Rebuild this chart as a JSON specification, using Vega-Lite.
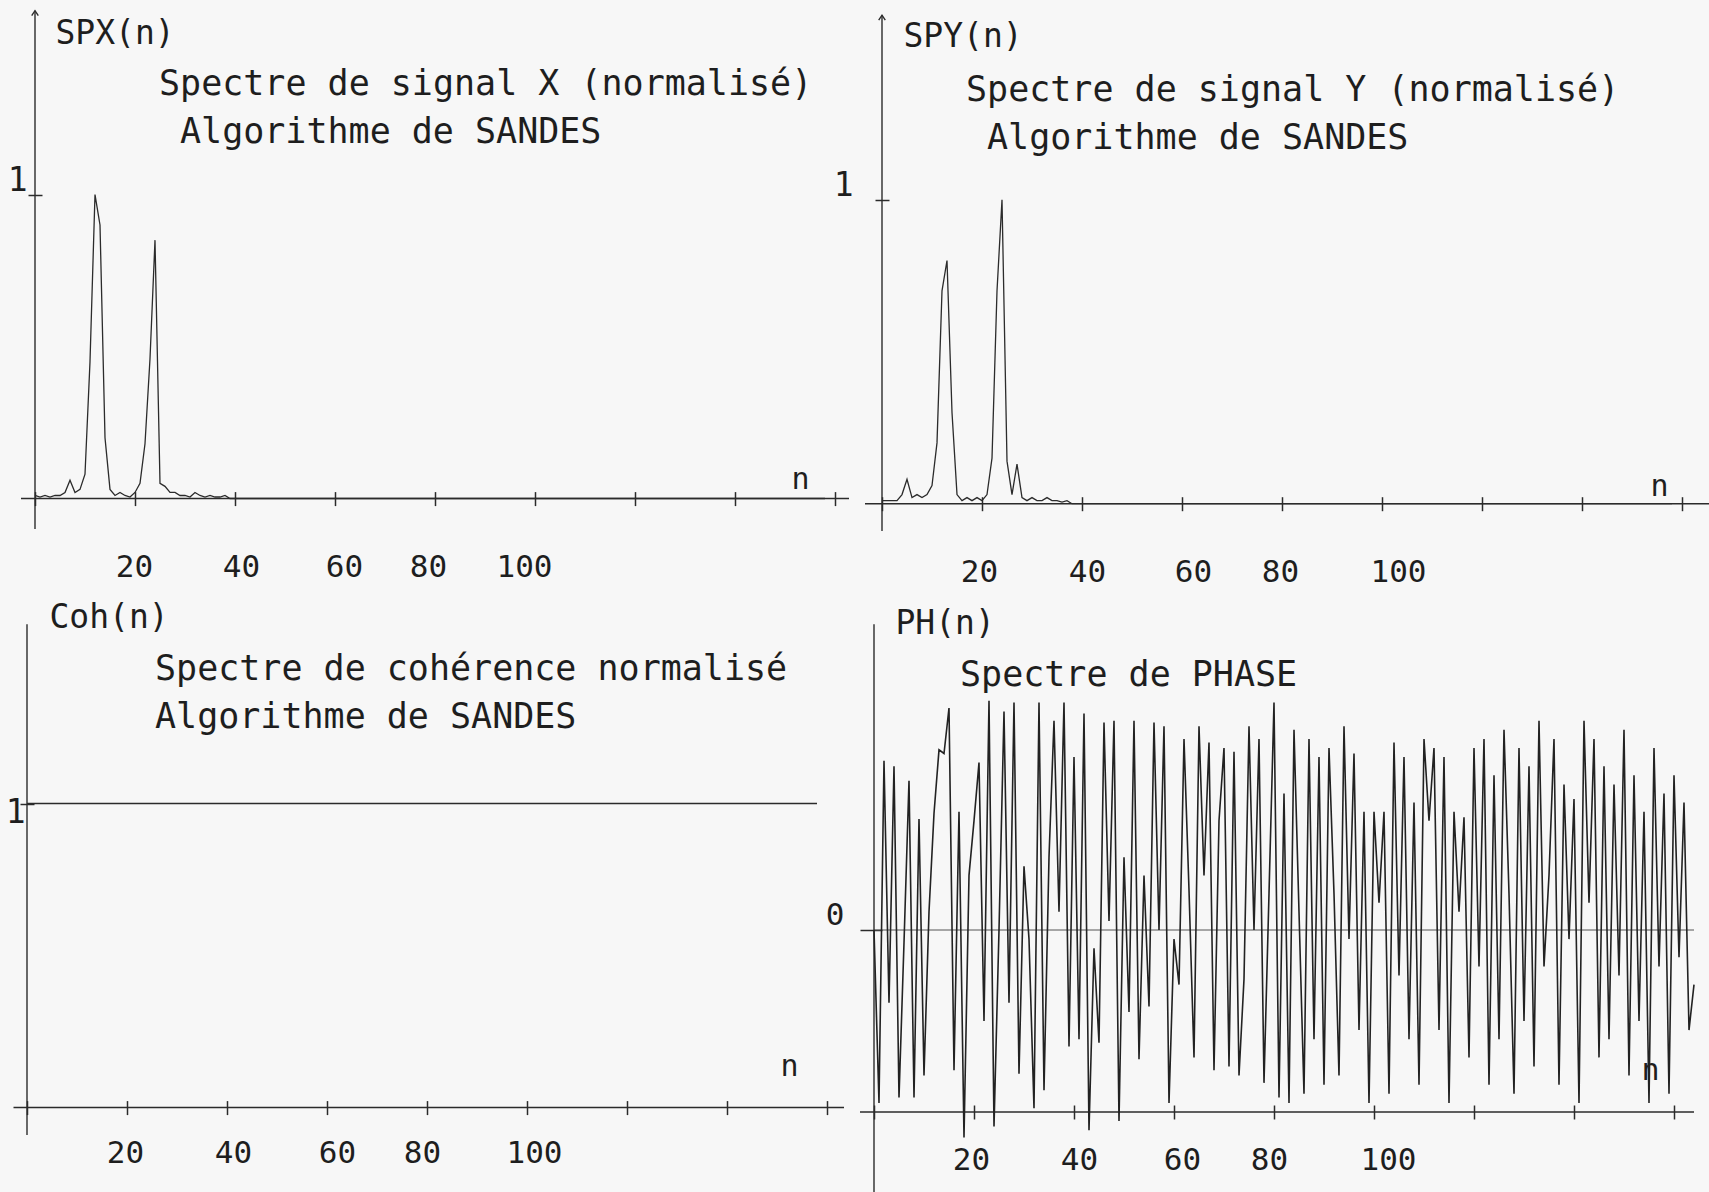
{
"$schema": "https://vega.github.io/schema/vega-lite/v6.json",
"background": "#f7f7f7",
"autosize": {"type": "none"},
"padding": {"left": 5, "top": 0, "right": 1704, "bottom": 1192},
"config": {
  "view": {"stroke": null},
  "font": "DejaVu Sans Mono",
  "axis": {"labelFont": "DejaVu Sans Mono", "titleFont": "DejaVu Sans Mono", "labelColor": "#1e1e1e", "titleColor": "#1e1e1e", "tickColor": "#2b2b2b", "tickWidth": 1.5, "grid": false, "domain": false, "labelFontSize": 31, "titleFontSize": 33, "titleFontWeight": "normal", "labelFlush": false, "labelOverlap": false, "titlePadding": 0},
  "text": {"font": "DejaVu Sans Mono", "fontSize": 35, "align": "left", "baseline": "alphabetic", "color": "#1e1e1e"}
},
"datasets": {"sig": [
{"n":0,"spx":0.01,"spy":0.01,"coh":1,"ph":0},
{"n":1,"spx":0.005,"spy":0.01,"coh":1,"ph":-0.95},
{"n":2,"spx":0.01,"spy":0.01,"coh":1,"ph":0.93},
{"n":3,"spx":0.005,"spy":0.01,"coh":1,"ph":-0.4},
{"n":4,"spx":0.01,"spy":0.03,"coh":1,"ph":0.9},
{"n":5,"spx":0.01,"spy":0.08,"coh":1,"ph":-0.92},
{"n":6,"spx":0.02,"spy":0.02,"coh":1,"ph":-0.07},
{"n":7,"spx":0.06,"spy":0.03,"coh":1,"ph":0.82},
{"n":8,"spx":0.02,"spy":0.02,"coh":1,"ph":-0.92},
{"n":9,"spx":0.03,"spy":0.03,"coh":1,"ph":0.61},
{"n":10,"spx":0.08,"spy":0.06,"coh":1,"ph":-0.8},
{"n":11,"spx":0.45,"spy":0.2,"coh":1,"ph":0.1},
{"n":12,"spx":1.0,"spy":0.7,"coh":1,"ph":0.64},
{"n":13,"spx":0.9,"spy":0.8,"coh":1,"ph":0.99},
{"n":14,"spx":0.2,"spy":0.3,"coh":1,"ph":0.97},
{"n":15,"spx":0.03,"spy":0.03,"coh":1,"ph":1.22},
{"n":16,"spx":0.01,"spy":0.01,"coh":1,"ph":-0.77},
{"n":17,"spx":0.02,"spy":0.02,"coh":1,"ph":0.65},
{"n":18,"spx":0.01,"spy":0.01,"coh":1,"ph":-1.14},
{"n":19,"spx":0.005,"spy":0.02,"coh":1,"ph":0.3},
{"n":20,"spx":0.02,"spy":0.01,"coh":1,"ph":0.6},
{"n":21,"spx":0.05,"spy":0.03,"coh":1,"ph":0.92},
{"n":22,"spx":0.18,"spy":0.15,"coh":1,"ph":-0.5},
{"n":23,"spx":0.46,"spy":0.7,"coh":1,"ph":1.26},
{"n":24,"spx":0.85,"spy":1.0,"coh":1,"ph":-1.08},
{"n":25,"spx":0.05,"spy":0.14,"coh":1,"ph":0.0},
{"n":26,"spx":0.04,"spy":0.03,"coh":1,"ph":1.2},
{"n":27,"spx":0.02,"spy":0.13,"coh":1,"ph":-0.4},
{"n":28,"spx":0.02,"spy":0.02,"coh":1,"ph":1.25},
{"n":29,"spx":0.01,"spy":0.01,"coh":1,"ph":-0.79},
{"n":30,"spx":0.01,"spy":0.02,"coh":1,"ph":0.35},
{"n":31,"spx":0.005,"spy":0.01,"coh":1,"ph":-0.05},
{"n":32,"spx":0.02,"spy":0.01,"coh":1,"ph":-0.98},
{"n":33,"spx":0.01,"spy":0.02,"coh":1,"ph":1.25},
{"n":34,"spx":0.005,"spy":0.01,"coh":1,"ph":-0.88},
{"n":35,"spx":0.01,"spy":0.01,"coh":1,"ph":0.4},
{"n":36,"spx":0.005,"spy":0.005,"coh":1,"ph":1.15},
{"n":37,"spx":0.005,"spy":0.01,"coh":1,"ph":0.1},
{"n":38,"spx":0.01,"spy":0,"coh":1,"ph":1.25},
{"n":39,"spx":0,"spy":0,"coh":1,"ph":-0.64},
{"n":40,"spx":0,"spy":0,"coh":1,"ph":0.95},
{"n":41,"spx":0,"spy":0,"coh":1,"ph":-0.6},
{"n":42,"spx":0,"spy":0,"coh":1,"ph":1.19},
{"n":43,"spx":0,"spy":0,"coh":1,"ph":-1.1},
{"n":44,"spx":0,"spy":0,"coh":1,"ph":-0.1},
{"n":45,"spx":0,"spy":0,"coh":1,"ph":-0.62},
{"n":46,"spx":0,"spy":0,"coh":1,"ph":1.14},
{"n":47,"spx":0,"spy":0,"coh":1,"ph":0.05},
{"n":48,"spx":0,"spy":0,"coh":1,"ph":1.15},
{"n":49,"spx":0,"spy":0,"coh":1,"ph":-1.05},
{"n":50,"spx":0,"spy":0,"coh":1,"ph":0.4},
{"n":51,"spx":0,"spy":0,"coh":1,"ph":-0.45},
{"n":52,"spx":0,"spy":0,"coh":1,"ph":1.15},
{"n":53,"spx":0,"spy":0,"coh":1,"ph":-0.71},
{"n":54,"spx":0,"spy":0,"coh":1,"ph":0.3},
{"n":55,"spx":0,"spy":0,"coh":1,"ph":-0.42},
{"n":56,"spx":0,"spy":0,"coh":1,"ph":1.14},
{"n":57,"spx":0,"spy":0,"coh":1,"ph":0.0},
{"n":58,"spx":0,"spy":0,"coh":1,"ph":1.12},
{"n":59,"spx":0,"spy":0,"coh":1,"ph":-0.95},
{"n":60,"spx":0,"spy":0,"coh":1,"ph":-0.05},
{"n":61,"spx":0,"spy":0,"coh":1,"ph":-0.3},
{"n":62,"spx":0,"spy":0,"coh":1,"ph":1.05},
{"n":63,"spx":0,"spy":0,"coh":1,"ph":0.22},
{"n":64,"spx":0,"spy":0,"coh":1,"ph":-0.7},
{"n":65,"spx":0,"spy":0,"coh":1,"ph":1.12},
{"n":66,"spx":0,"spy":0,"coh":1,"ph":0.3},
{"n":67,"spx":0,"spy":0,"coh":1,"ph":1.03},
{"n":68,"spx":0,"spy":0,"coh":1,"ph":-0.77},
{"n":69,"spx":0,"spy":0,"coh":1,"ph":0.6},
{"n":70,"spx":0,"spy":0,"coh":1,"ph":1.0},
{"n":71,"spx":0,"spy":0,"coh":1,"ph":-0.75},
{"n":72,"spx":0,"spy":0,"coh":1,"ph":0.98},
{"n":73,"spx":0,"spy":0,"coh":1,"ph":-0.8},
{"n":74,"spx":0,"spy":0,"coh":1,"ph":-0.27},
{"n":75,"spx":0,"spy":0,"coh":1,"ph":1.12},
{"n":76,"spx":0,"spy":0,"coh":1,"ph":0.0},
{"n":77,"spx":0,"spy":0,"coh":1,"ph":1.05},
{"n":78,"spx":0,"spy":0,"coh":1,"ph":-0.84},
{"n":79,"spx":0,"spy":0,"coh":1,"ph":0.2},
{"n":80,"spx":0,"spy":0,"coh":1,"ph":1.25},
{"n":81,"spx":0,"spy":0,"coh":1,"ph":-0.92},
{"n":82,"spx":0,"spy":0,"coh":1,"ph":0.75},
{"n":83,"spx":0,"spy":0,"coh":1,"ph":-0.95},
{"n":84,"spx":0,"spy":0,"coh":1,"ph":1.1},
{"n":85,"spx":0,"spy":0,"coh":1,"ph":0.1},
{"n":86,"spx":0,"spy":0,"coh":1,"ph":-0.9},
{"n":87,"spx":0,"spy":0,"coh":1,"ph":1.05},
{"n":88,"spx":0,"spy":0,"coh":1,"ph":-0.6},
{"n":89,"spx":0,"spy":0,"coh":1,"ph":0.95},
{"n":90,"spx":0,"spy":0,"coh":1,"ph":-0.85},
{"n":91,"spx":0,"spy":0,"coh":1,"ph":1.0},
{"n":92,"spx":0,"spy":0,"coh":1,"ph":0.2},
{"n":93,"spx":0,"spy":0,"coh":1,"ph":-0.8},
{"n":94,"spx":0,"spy":0,"coh":1,"ph":1.12},
{"n":95,"spx":0,"spy":0,"coh":1,"ph":-0.05},
{"n":96,"spx":0,"spy":0,"coh":1,"ph":0.97},
{"n":97,"spx":0,"spy":0,"coh":1,"ph":-0.55},
{"n":98,"spx":0,"spy":0,"coh":1,"ph":0.65},
{"n":99,"spx":0,"spy":0,"coh":1,"ph":-0.95},
{"n":100,"spx":0,"spy":0,"coh":1,"ph":0.65},
{"n":101,"spx":0,"spy":0,"coh":1,"ph":0.15},
{"n":102,"spx":0,"spy":0,"coh":1,"ph":0.65},
{"n":103,"spx":0,"spy":0,"coh":1,"ph":-0.9},
{"n":104,"spx":0,"spy":0,"coh":1,"ph":1.03},
{"n":105,"spx":0,"spy":0,"coh":1,"ph":-0.25},
{"n":106,"spx":0,"spy":0,"coh":1,"ph":0.95},
{"n":107,"spx":0,"spy":0,"coh":1,"ph":-0.6},
{"n":108,"spx":0,"spy":0,"coh":1,"ph":0.7},
{"n":109,"spx":0,"spy":0,"coh":1,"ph":-0.85},
{"n":110,"spx":0,"spy":0,"coh":1,"ph":1.05},
{"n":111,"spx":0,"spy":0,"coh":1,"ph":0.6},
{"n":112,"spx":0,"spy":0,"coh":1,"ph":1.0},
{"n":113,"spx":0,"spy":0,"coh":1,"ph":-0.55},
{"n":114,"spx":0,"spy":0,"coh":1,"ph":0.95},
{"n":115,"spx":0,"spy":0,"coh":1,"ph":-0.95},
{"n":116,"spx":0,"spy":0,"coh":1,"ph":0.65},
{"n":117,"spx":0,"spy":0,"coh":1,"ph":0.1},
{"n":118,"spx":0,"spy":0,"coh":1,"ph":0.62},
{"n":119,"spx":0,"spy":0,"coh":1,"ph":-0.7},
{"n":120,"spx":0,"spy":0,"coh":1,"ph":1.0},
{"n":121,"spx":0,"spy":0,"coh":1,"ph":-0.2},
{"n":122,"spx":0,"spy":0,"coh":1,"ph":1.05},
{"n":123,"spx":0,"spy":0,"coh":1,"ph":-0.85},
{"n":124,"spx":0,"spy":0,"coh":1,"ph":0.85},
{"n":125,"spx":0,"spy":0,"coh":1,"ph":-0.6},
{"n":126,"spx":0,"spy":0,"coh":1,"ph":1.1},
{"n":127,"spx":0,"spy":0,"coh":1,"ph":0.2},
{"n":128,"spx":0,"spy":0,"coh":1,"ph":-0.9},
{"n":129,"spx":0,"spy":0,"coh":1,"ph":1.0},
{"n":130,"spx":0,"spy":0,"coh":1,"ph":-0.5},
{"n":131,"spx":0,"spy":0,"coh":1,"ph":0.9},
{"n":132,"spx":0,"spy":0,"coh":1,"ph":-0.75},
{"n":133,"spx":0,"spy":0,"coh":1,"ph":1.15},
{"n":134,"spx":0,"spy":0,"coh":1,"ph":-0.2},
{"n":135,"spx":0,"spy":0,"coh":1,"ph":0.3},
{"n":136,"spx":0,"spy":0,"coh":1,"ph":1.05},
{"n":137,"spx":0,"spy":0,"coh":1,"ph":-0.85},
{"n":138,"spx":0,"spy":0,"coh":1,"ph":0.8},
{"n":139,"spx":0,"spy":0,"coh":1,"ph":-0.05},
{"n":140,"spx":0,"spy":0,"coh":1,"ph":0.72},
{"n":141,"spx":0,"spy":0,"coh":1,"ph":-0.95},
{"n":142,"spx":0,"spy":0,"coh":1,"ph":1.15},
{"n":143,"spx":0,"spy":0,"coh":1,"ph":0.15},
{"n":144,"spx":0,"spy":0,"coh":1,"ph":1.05},
{"n":145,"spx":0,"spy":0,"coh":1,"ph":-0.7},
{"n":146,"spx":0,"spy":0,"coh":1,"ph":0.9},
{"n":147,"spx":0,"spy":0,"coh":1,"ph":-0.6},
{"n":148,"spx":0,"spy":0,"coh":1,"ph":0.8},
{"n":149,"spx":0,"spy":0,"coh":1,"ph":-0.25},
{"n":150,"spx":0,"spy":0,"coh":1,"ph":1.1},
{"n":151,"spx":0,"spy":0,"coh":1,"ph":-0.8},
{"n":152,"spx":0,"spy":0,"coh":1,"ph":0.85},
{"n":153,"spx":0,"spy":0,"coh":1,"ph":-0.5},
{"n":154,"spx":0,"spy":0,"coh":1,"ph":0.65},
{"n":155,"spx":0,"spy":0,"coh":1,"ph":-0.95},
{"n":156,"spx":0,"spy":0,"coh":1,"ph":1.0},
{"n":157,"spx":0,"spy":0,"coh":1,"ph":-0.2},
{"n":158,"spx":0,"spy":0,"coh":1,"ph":0.75},
{"n":159,"spx":null,"spy":null,"coh":null,"ph":-0.9},
{"n":160,"spx":null,"spy":null,"coh":null,"ph":0.85},
{"n":161,"spx":null,"spy":null,"coh":null,"ph":-0.15},
{"n":162,"spx":null,"spy":null,"coh":null,"ph":0.7},
{"n":163,"spx":null,"spy":null,"coh":null,"ph":-0.55},
{"n":164,"spx":null,"spy":null,"coh":null,"ph":-0.3}
]},
"columns": 2,
"spacing": {"row": 74, "column": 14},
"bounds": "flush",
"concat": [
 {"width": 840, "height": 535, "data": {"name": "sig"},
  "layer": [
   {"data": {"values": [{}]}, "mark": {"type": "rule", "color": "#2b2b2b", "strokeWidth": 1.6}, "encoding": {"x": {"datum": -2.8}, "x2": {"datum": 162.8}, "y": {"datum": 0}}},
   {"data": {"values": [{}]}, "mark": {"type": "rule", "color": "#2b2b2b", "strokeWidth": 1.4}, "encoding": {"x": {"datum": 0}, "y": {"datum": -0.1}, "y2": {"datum": 1.605}}},
   {"data": {"values": [{}]}, "mark": {"type": "point", "shape": "M-0.6,0.9L0,0L0.6,0.9", "filled": false, "stroke": "#2b2b2b", "strokeWidth": 1.4, "size": 120, "opacity": 1}, "encoding": {"x": {"datum": 0}, "y": {"datum": 1.605}}},
   {"data": {"values": [{}]}, "mark": {"type": "text"}, "encoding": {"x": {"datum": 24.8}, "y": {"datum": 1.329}, "text": {"value": "Spectre de signal X (normalisé)"}}},
   {"data": {"values": [{}]}, "mark": {"type": "text"}, "encoding": {"x": {"datum": 29}, "y": {"datum": 1.171}, "text": {"value": "Algorithme de SANDES"}}},
   {"mark": {"type": "line", "color": "#2b2b2b", "strokeWidth": 1.3},
    "encoding": {
     "x": {"field": "n", "type": "quantitative", "scale": {"domain": [-6, 162], "nice": false, "zero": false},
       "axis": {"values": [0,20,40,60,80,100,120,140,160], "tickSize": 14, "offset": -43.4, "labelPadding": 47, "labelExpr": "datum.value >= 20 && datum.value <= 100 ? datum.label : ''",
         "labelOffset": {"condition": [{"test": "datum.value == 20", "value": -1}, {"test": "datum.value == 40", "value": 6}, {"test": "datum.value == 60", "value": 9}, {"test": "datum.value == 80", "value": -7}, {"test": "datum.value == 100", "value": -11}], "value": 0},
         "title": "n", "titleX": 795, "titleY": -12.6, "titleAlign": "center", "titleBaseline": "middle", "titleFontSize": 30}},
     "y": {"field": "spx", "type": "quantitative", "scale": {"domain": [-0.12, 1.64], "nice": false, "zero": false},
       "axis": {"values": [1], "format": "d", "tickSize": 14, "offset": -37, "labelPadding": 1, "labelBaseline": "alphabetic", "labelOffset": -4, "labelFontSize": 33, "title": "SPX(n)", "titleAngle": 0, "titleX": 13, "titleY": 33, "titleAlign": "left", "titleBaseline": "middle"}}
    }}
  ]},
 {"width": 833, "height": 535, "data": {"name": "sig"},
  "layer": [
   {"data": {"values": [{}]}, "mark": {"type": "rule", "color": "#2b2b2b", "strokeWidth": 1.6}, "encoding": {"x": {"datum": -3.4}, "x2": {"datum": 166}, "y": {"datum": 0}}},
   {"data": {"values": [{}]}, "mark": {"type": "rule", "color": "#2b2b2b", "strokeWidth": 1.4}, "encoding": {"x": {"datum": 0}, "y": {"datum": -0.09}, "y2": {"datum": 1.607}}},
   {"data": {"values": [{}]}, "mark": {"type": "point", "shape": "M-0.6,0.9L0,0L0.6,0.9", "filled": false, "stroke": "#2b2b2b", "strokeWidth": 1.4, "size": 120, "opacity": 1}, "encoding": {"x": {"datum": 0}, "y": {"datum": 1.607}}},
   {"data": {"values": [{}]}, "mark": {"type": "text"}, "encoding": {"x": {"datum": 16.8}, "y": {"datum": 1.325}, "text": {"value": "Spectre de signal Y (normalisé)"}}},
   {"data": {"values": [{}]}, "mark": {"type": "text"}, "encoding": {"x": {"datum": 21}, "y": {"datum": 1.167}, "text": {"value": "Algorithme de SANDES"}}},
   {"mark": {"type": "line", "color": "#2b2b2b", "strokeWidth": 1.3},
    "encoding": {
     "x": {"field": "n", "type": "quantitative", "scale": {"domain": [-4.6, 162], "nice": false, "zero": false},
       "axis": {"values": [0,20,40,60,80,100,120,140,160], "tickSize": 14, "offset": -38.3, "labelPadding": 47, "labelExpr": "datum.value >= 20 && datum.value <= 100 ? datum.label : ''",
         "labelOffset": {"condition": [{"test": "datum.value == 20", "value": -3}, {"test": "datum.value == 40", "value": 5}, {"test": "datum.value == 60", "value": 11}, {"test": "datum.value == 80", "value": -2}, {"test": "datum.value == 100", "value": 16}], "value": 0},
         "title": "n", "titleX": 800, "titleY": -10.7, "titleAlign": "center", "titleBaseline": "middle", "titleFontSize": 30}},
     "y": {"field": "spy", "type": "quantitative", "scale": {"domain": [-0.103, 1.657], "nice": false, "zero": false},
       "axis": {"values": [1], "format": "d", "tickSize": 14, "offset": -30, "labelPadding": 22, "labelBaseline": "alphabetic", "labelOffset": -4, "labelFontSize": 33, "title": "SPY(n)", "titleAngle": 0, "titleX": 14, "titleY": 36, "titleAlign": "left", "titleBaseline": "middle"}}
    }}
  ]},
 {"width": 840, "height": 535, "data": {"name": "sig"},
  "layer": [
   {"data": {"values": [{}]}, "mark": {"type": "rule", "color": "#2b2b2b", "strokeWidth": 1.6}, "encoding": {"x": {"datum": -2.7}, "x2": {"datum": 163.4}, "y": {"datum": 0}}},
   {"data": {"values": [{}]}, "mark": {"type": "rule", "color": "#2b2b2b", "strokeWidth": 1.4}, "encoding": {"x": {"datum": 0}, "y": {"datum": -0.09}, "y2": {"datum": 1.59}}},
   {"data": {"values": [{}]}, "mark": {"type": "text"}, "encoding": {"x": {"datum": 25.6}, "y": {"datum": 1.407}, "text": {"value": "Spectre de cohérence normalisé"}}},
   {"data": {"values": [{}]}, "mark": {"type": "text"}, "encoding": {"x": {"datum": 25.6}, "y": {"datum": 1.249}, "text": {"value": "Algorithme de SANDES"}}},
   {"mark": {"type": "line", "color": "#2b2b2b", "strokeWidth": 1.4},
    "encoding": {
     "x": {"field": "n", "type": "quantitative", "scale": {"domain": [-4.4, 163.6], "nice": false, "zero": false},
       "axis": {"values": [0,20,40,60,80,100,120,140,160], "tickSize": 14, "offset": -43.4, "labelPadding": 24, "labelExpr": "datum.value >= 20 && datum.value <= 100 ? datum.label : ''",
         "labelOffset": {"condition": [{"test": "datum.value == 20", "value": -2}, {"test": "datum.value == 40", "value": 6}, {"test": "datum.value == 60", "value": 10}, {"test": "datum.value == 80", "value": -5}, {"test": "datum.value == 100", "value": 7}], "value": 0},
         "title": "n", "titleX": 784, "titleY": -34.6, "titleAlign": "center", "titleBaseline": "middle", "titleFontSize": 30}},
     "y": {"field": "coh", "type": "quantitative", "scale": {"domain": [-0.12, 1.64], "nice": false, "zero": false},
       "axis": {"values": [1], "format": "d", "tickSize": 14, "offset": -29, "labelPadding": -5, "labelBaseline": "alphabetic", "labelOffset": 19, "labelFontSize": 33, "title": "Coh(n)", "titleAngle": 0, "titleX": 15, "titleY": 8, "titleAlign": "left", "titleBaseline": "middle"}}
    }}
  ]},
 {"width": 825, "height": 535, "data": {"name": "sig"},
  "layer": [
   {"data": {"values": [{}]}, "mark": {"type": "rule", "color": "#2b2b2b", "strokeWidth": 1.6}, "encoding": {"x": {"datum": -2.8}, "x2": {"datum": 164}, "y": {"datum": -1}}},
   {"data": {"values": [{}]}, "mark": {"type": "rule", "color": "#555555", "strokeWidth": 1}, "encoding": {"x": {"datum": 0}, "x2": {"datum": 164}, "y": {"datum": 0}}},
   {"data": {"values": [{}]}, "mark": {"type": "rule", "color": "#2b2b2b", "strokeWidth": 1.4}, "encoding": {"x": {"datum": 0}, "y": {"datum": -1.44}, "y2": {"datum": 1.68}}},
   {"data": {"values": [{}]}, "mark": {"type": "text"}, "encoding": {"x": {"datum": 17.2}, "y": {"datum": 1.341}, "text": {"value": "Spectre de PHASE"}}},
   {"mark": {"type": "line", "color": "#222222", "strokeWidth": 1.6},
    "encoding": {
     "x": {"field": "n", "type": "quantitative", "scale": {"domain": [-3, 162], "nice": false, "zero": false},
       "axis": {"values": [0,20,40,60,80,100,120,140,160], "tickSize": 14, "offset": -39, "labelPadding": 26, "labelExpr": "datum.value >= 20 && datum.value <= 100 ? datum.label : ''",
         "labelOffset": {"condition": [{"test": "datum.value == 20", "value": -3}, {"test": "datum.value == 40", "value": 5}, {"test": "datum.value == 60", "value": 8}, {"test": "datum.value == 80", "value": -5}, {"test": "datum.value == 100", "value": 14}], "value": 0},
         "title": "n", "titleX": 791, "titleY": -35, "titleAlign": "center", "titleBaseline": "middle", "titleFontSize": 30}},
     "y": {"field": "ph", "type": "quantitative", "scale": {"domain": [-1.176, 1.764], "nice": false, "zero": false},
       "axis": {"values": [0], "format": "d", "tickSize": 22, "offset": -23, "labelPadding": 16, "labelBaseline": "alphabetic", "labelOffset": -6, "title": "PH(n)", "titleAngle": 0, "titleX": 13, "titleY": 14, "titleAlign": "left", "titleBaseline": "middle"}}
    }}
  ]}
]
}
